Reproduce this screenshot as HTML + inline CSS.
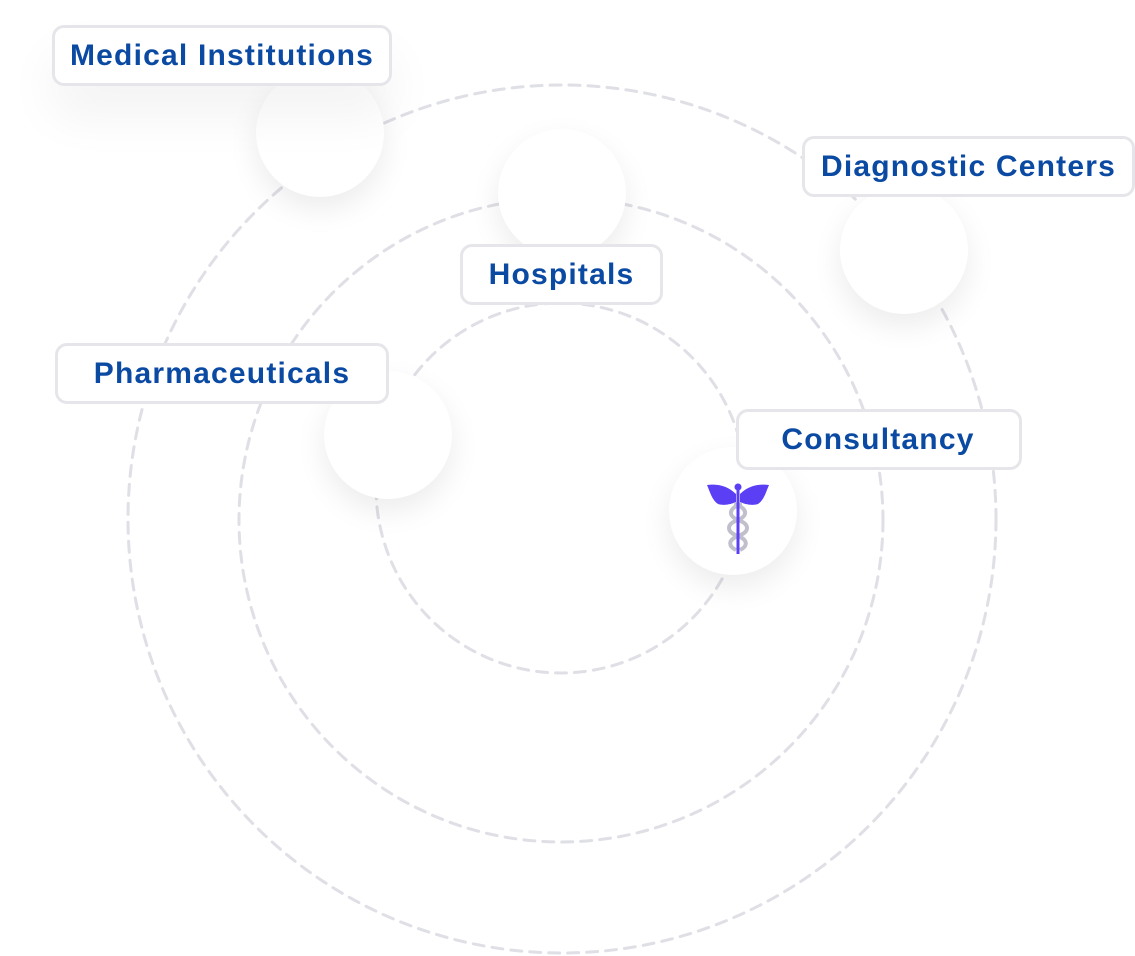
<!DOCTYPE html>
<html><head><meta charset="utf-8"><style>
html,body{margin:0;padding:0;background:#fff;}
body{width:1135px;height:956px;position:relative;overflow:hidden;font-family:"Liberation Sans",sans-serif;}
svg{position:absolute;left:0;top:0;}
.c{position:absolute;width:128px;height:128px;border-radius:50%;background:#fff;box-shadow:0 12px 30px rgba(0,0,0,0.08);}
.l{position:absolute;box-sizing:border-box;border:3px solid #e6e6ea;border-radius:12px;background:#fff;color:#0b4aa2;font-weight:bold;font-size:30px;display:flex;align-items:center;justify-content:center;letter-spacing:1.2px;}
</style></head><body>
<svg width="1135" height="956">
<g fill="none" stroke="#dfdfe6" stroke-width="3" stroke-dasharray="11 8" stroke-linecap="round">
<circle cx="562" cy="519" r="434"/>
<circle cx="561" cy="520" r="322"/>
<circle cx="561" cy="488" r="185"/>
</g>
</svg>
<div class="c" style="left:256px;top:69px"></div>
<div class="c" style="left:498px;top:129px"></div>
<div class="c" style="left:840px;top:186px"></div>
<div class="c" style="left:324px;top:371px"></div>
<div class="c" style="left:669px;top:447px"></div>
<svg width="1135" height="956" style="pointer-events:none">
<g transform="translate(738,512)">
<path d="M-2,-18 C-12,-28 -24,-28 -31,-27 C-28,-20 -26,-12 -20,-8 C-14,-6 -6,-8 -2,-10Z" fill="#5b3ff5"/>
<path d="M2,-18 C12,-28 24,-28 31,-27 C28,-20 26,-12 20,-8 C14,-6 6,-8 2,-10Z" fill="#5b3ff5"/>
<circle cx="0" cy="-25" r="3.5" fill="#5b3ff5"/>
<path d="M-4,-8 C10,-4 10,4 0,8 C-12,12 -12,20 0,24 C10,28 10,34 2,38 M4,-8 C-10,-4 -10,4 0,8 C12,12 12,20 0,24 C-10,28 -10,34 -2,38" fill="none" stroke="#c0c0cc" stroke-width="4"/>
<line x1="0" y1="-22" x2="0" y2="42" stroke="#5b3ff5" stroke-width="3"/>
</g>
</svg>
<div class="l" style="left:52px;top:25px;width:340px;height:61px;box-shadow:0 30px 50px rgba(0,0,0,0.05)">Medical Institutions</div>
<div class="l" style="left:802px;top:136px;width:333px;height:61px">Diagnostic Centers</div>
<div class="l" style="left:460px;top:244px;width:203px;height:61px">Hospitals</div>
<div class="l" style="left:55px;top:343px;width:334px;height:61px">Pharmaceuticals</div>
<div class="l" style="left:736px;top:409px;width:286px;height:61px;padding-right:2px">Consultancy</div>
</body></html>
